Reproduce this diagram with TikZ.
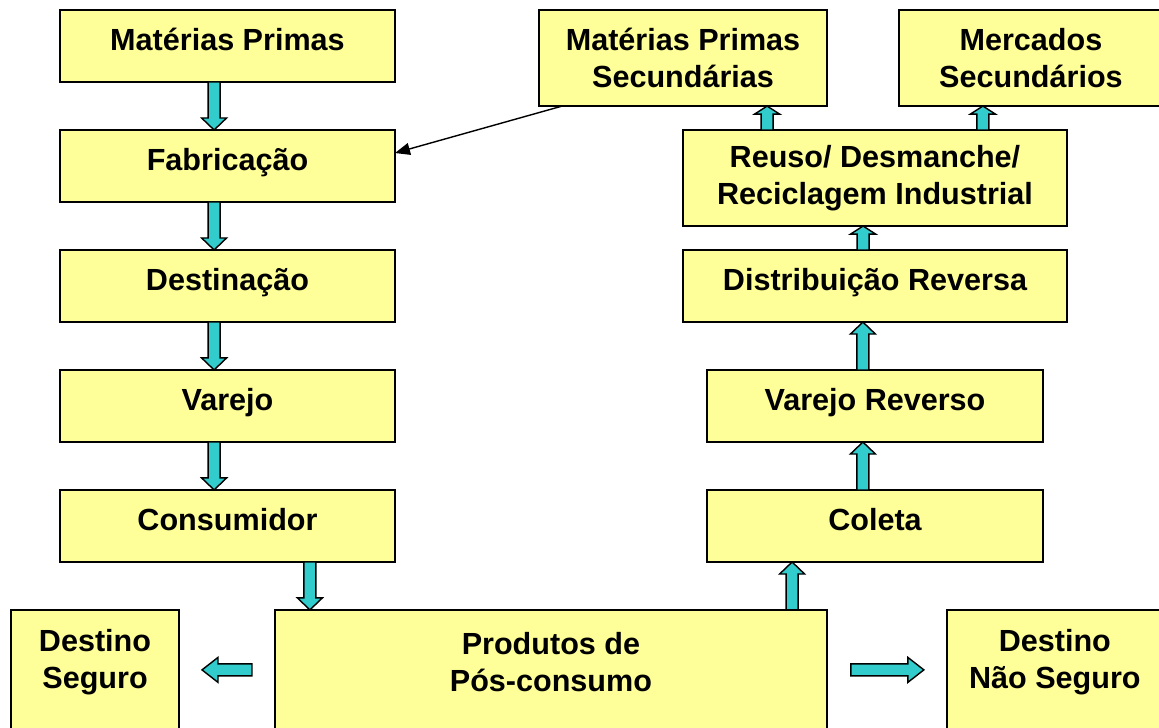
\documentclass[tikz,border=0pt]{standalone}
\usepackage{fontspec}
\setmainfont{Liberation Sans}
\usetikzlibrary{arrows.meta}
\usetikzlibrary{positioning}
\usetikzlibrary{calc}
\definecolor{boxyellow}{RGB}{255,255,153}
\definecolor{arrowcyan}{RGB}{51,204,204}
\newcommand{\pxu}{0.02cm}
% block arrow: #1 head length (px), #2 start, #3 tip
\newcommand{\fatarrow}[3]{%
	\draw[fat] let \p1=(#2), \p2=(#3), \n1={atan2(\y2-\y1,\x2-\x1)}, \n2={veclen(\x2-\x1,\y2-\y1)-#1*\pxu} in
	($(\p1)+({\n1+90}:{6*\pxu})$) -- ($(\p1)+({\n1}:{\n2*1pt})+({\n1+90}:{6*\pxu})$) --
	($(\p1)+({\n1}:{\n2*1pt})+({\n1+90}:{12.5*\pxu})$) -- (\p2) --
	($(\p1)+({\n1}:{\n2*1pt})+({\n1-90}:{12.5*\pxu})$) -- ($(\p1)+({\n1}:{\n2*1pt})+({\n1-90}:{6*\pxu})$) --
	($(\p1)+({\n1-90}:{6*\pxu})$) -- cycle;}

\begin{document}
\begin{tikzpicture}[x=0.02cm,y=-0.02cm]
	
		\tikzstyle{block} = [rectangle, draw, line width=1.1pt, fill=boxyellow, align=center, outer sep=0pt, inner sep=0pt, font=\bfseries\fontsize{17.4}{21}\selectfont]
		\tikzstyle{oneline} = [text height=0.75em, text depth=0.25em]
		\tikzstyle{lbl} = [align=center, font=\bfseries\fontsize{17.4}{21}\selectfont]
		\tikzstyle{fat} = [draw, fill=arrowcyan, line width=0.8pt, line join=miter]
		\tikzstyle{line} = [draw, thick, -{Triangle[length=3mm,width=2.4mm]}]
		\useasboundingbox (0,0) rectangle (1159,727);
	
		% forward chain
		\node [block,oneline,minimum width=6.7cm,minimum height=1.44cm] (a1) at (227.5,46) {Matérias Primas};
		\node [block,oneline,minimum width=6.7cm,minimum height=1.44cm,below=0.96cm of a1] (a2) {Fabricação};
		\node [block,oneline,minimum width=6.7cm,minimum height=1.44cm,below=0.96cm of a2] (a3) {Destinação};
		\node [block,oneline,minimum width=6.7cm,minimum height=1.44cm,below=0.96cm of a3] (a4) {Varejo};
		\node [block,oneline,minimum width=6.7cm,minimum height=1.44cm,below=0.96cm of a4] (a5) {Consumidor};
		
		% post-consumption
		\node [block,minimum width=11.04cm,minimum height=2.7cm,below=0.96cm of a5,xshift=6.47cm,label={[lbl,yshift=0.3cm]center:{Produtos de\\Pós-consumo}}] (c2) {};
		\node [block,minimum width=3.36cm,minimum height=2.7cm,left=1.92cm of c2,label={[lbl,yshift=0.3cm]center:{Destino\\Seguro}}] (c1) {};
		\node [block,minimum width=4.32cm,minimum height=2.7cm,right=2.4cm of c2,label={[lbl,yshift=0.3cm]center:{Destino\\Não Seguro}}] (c3) {};
		
		% reverse chain
		\node [block,oneline,minimum width=6.72cm,minimum height=1.44cm] (b6) at (875,526) {Coleta};
		\node [block,oneline,minimum width=6.72cm,minimum height=1.44cm,above=0.96cm of b6] (b5) {Varejo Reverso};
		\node [block,oneline,minimum width=7.68cm,minimum height=1.44cm,above=0.96cm of b5] (b4) {Distribuição Reversa};
		\node [block,minimum width=7.68cm,minimum height=1.92cm,above=0.48cm of b4] (b3) {Reuso/ Desmanche/\\Reciclagem Industrial};
		\node [block,minimum width=5.76cm,minimum height=1.92cm,above=0.48cm of b3,xshift=-3.84cm] (b1) {Matérias Primas\\Secundárias};
		\node [block,minimum width=5.28cm,minimum height=1.92cm,right=1.44cm of b1] (b2) {Mercados\\Secundários};
		
		% block arrows
		\foreach \s/\t in {a1/a2,a2/a3,a3/a4,a4/a5}
			\fatarrow{12}{$(\s.south west)!0.46!(\s.south east)$}{$(\t.north west)!0.46!(\t.north east)$};
		\coordinate (cons) at ($(a5.south west)!0.746!(a5.south east)$);
		\fatarrow{12}{cons}{cons |- c2.north};
		\coordinate (posc) at ($(c2.north west)!0.937!(c2.north east)$);
		\fatarrow{12}{posc}{posc |- b6.south};
		\fatarrow{12}{$(b6.north west)!0.464!(b6.north east)$}{$(b5.south west)!0.464!(b5.south east)$};
		\coordinate (vrev) at ($(b5.north west)!0.464!(b5.north east)$);
		\fatarrow{12}{vrev}{vrev |- b4.south};
		\coordinate (dist) at ($(b4.north west)!0.469!(b4.north east)$);
		\fatarrow{8}{dist}{dist |- b3.south};
		\coordinate (reu1) at ($(b3.north west)!0.219!(b3.north east)$);
		\coordinate (reu2) at ($(b3.north west)!0.781!(b3.north east)$);
		\fatarrow{8}{reu1}{reu1 |- b1.south};
		\fatarrow{8}{reu2}{reu2 |- b2.south};
		\fatarrow{16}{$(c2.west)+(-23,-7.5)$}{$(c1.east)+(23,-7.5)$};
		\fatarrow{16}{$(c2.east)+(24,-7.5)$}{$(c3.west)+(-23,-7.5)$};
		
		% Arrow
		\draw [line] ($(b1.south west)!0.08!(b1.south east)$) -- ($(a2.north east)!0.32!(a2.south east)$);
				
	\end{tikzpicture}
\end{document}
